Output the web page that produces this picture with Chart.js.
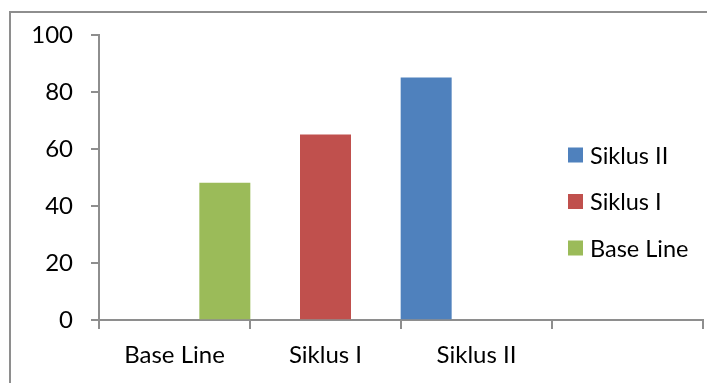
<!DOCTYPE html>
<html lang="id">
<head>
    <meta charset="UTF-8">
    <title>Siklus</title>
    <script src="https://cdn.jsdelivr.net/npm/chart.js"></script>
    <style>
        body { margin: 0; background: #fff; }
        .frame {
            position: relative;
            width: 707px;
            height: 383px;
            overflow: hidden;
        }
        .frame::before {
            content: '';
            position: absolute;
            left: 9px;
            top: 11px;
            width: 720px;
            height: 400px;
            border-left: 2px solid #8e8e8e;
            border-top: 2px solid #8e8e8e;
            pointer-events: none;
        }
        canvas { display: block; }
    </style>
</head>
<body>
    <div class="frame">
        <canvas id="chart" width="707" height="383"></canvas>
    </div>

    <script>
        const categories = ['Base Line', 'Siklus I', 'Siklus II', ''];
        const seriesNames = ['Siklus II', 'Siklus I', 'Base Line'];
        const siklus2 = [null, null, 85, null];
        const siklus1 = [null, 65, null, null];
        const baseLine = [48, null, null, null];
        const colors = ['#4F81BD', '#C0504D', '#9BBB59'];
        const yTicks = [0, 20, 40, 60, 80, 100];

        const FONT = 'Lato';
        const axisColor = '#8e8e8e';

        // legend sits on top of the plot like in excel
        const sideLegend = {
            id: 'sideLegend',
            afterDraw(chart) {
                const ctx = chart.ctx;
                ctx.save();
                ctx.font = '23.5px ' + FONT;
                ctx.textBaseline = 'middle';
                chart.data.datasets.forEach((ds, i) => {
                    const cy = 155 + i * 46.5;
                    ctx.fillStyle = ds.backgroundColor;
                    ctx.fillRect(568, cy - 7.5, 15, 15);
                    ctx.fillStyle = '#000';
                    ctx.fillText(ds.label, 590, cy + 1);
                });
                ctx.restore();
            }
        };

        const datasets = [siklus2, siklus1, baseLine].map((vals, i) => ({
            label: seriesNames[i],
            data: vals,
            backgroundColor: colors[i],
            categoryPercentage: 1.0,
            barPercentage: 1.0
        }));

        new Chart(document.getElementById('chart'), {
            type: 'bar',
            data: { labels: categories, datasets: datasets },
            plugins: [sideLegend],
            options: {
                responsive: false,
                animation: false,
                layout: { padding: { top: 35, right: 4, left: 0, bottom: 0 } },
                plugins: {
                    legend: { display: false },
                    tooltip: { enabled: false }
                },
                scales: {
                    x: {
                        grid: {
                            offset: true,
                            drawOnChartArea: false,
                            drawTicks: true,
                            tickLength: 9,
                            color: axisColor,
                            lineWidth: 2
                        },
                        border: { display: true, color: axisColor, width: 2 },
                        ticks: {
                            color: '#000',
                            padding: 12,
                            font: { family: FONT, size: 24 },
                            maxRotation: 0
                        },
                        afterFit: (s) => { s.height = 63; }
                    },
                    y: {
                        min: 0,
                        max: 100,
                        afterBuildTicks: (s) => { s.ticks = yTicks.map(v => ({ value: v })); },
                        grid: {
                            drawOnChartArea: false,
                            drawTicks: true,
                            tickLength: 8,
                            color: axisColor,
                            lineWidth: 2
                        },
                        border: { display: true, color: axisColor, width: 2 },
                        ticks: {
                            color: '#000',
                            padding: 18,
                            font: { family: FONT, size: 24 }
                        },
                        afterFit: (s) => { s.width = 99; }
                    }
                }
            }
        });
    </script>
</body>
</html>
